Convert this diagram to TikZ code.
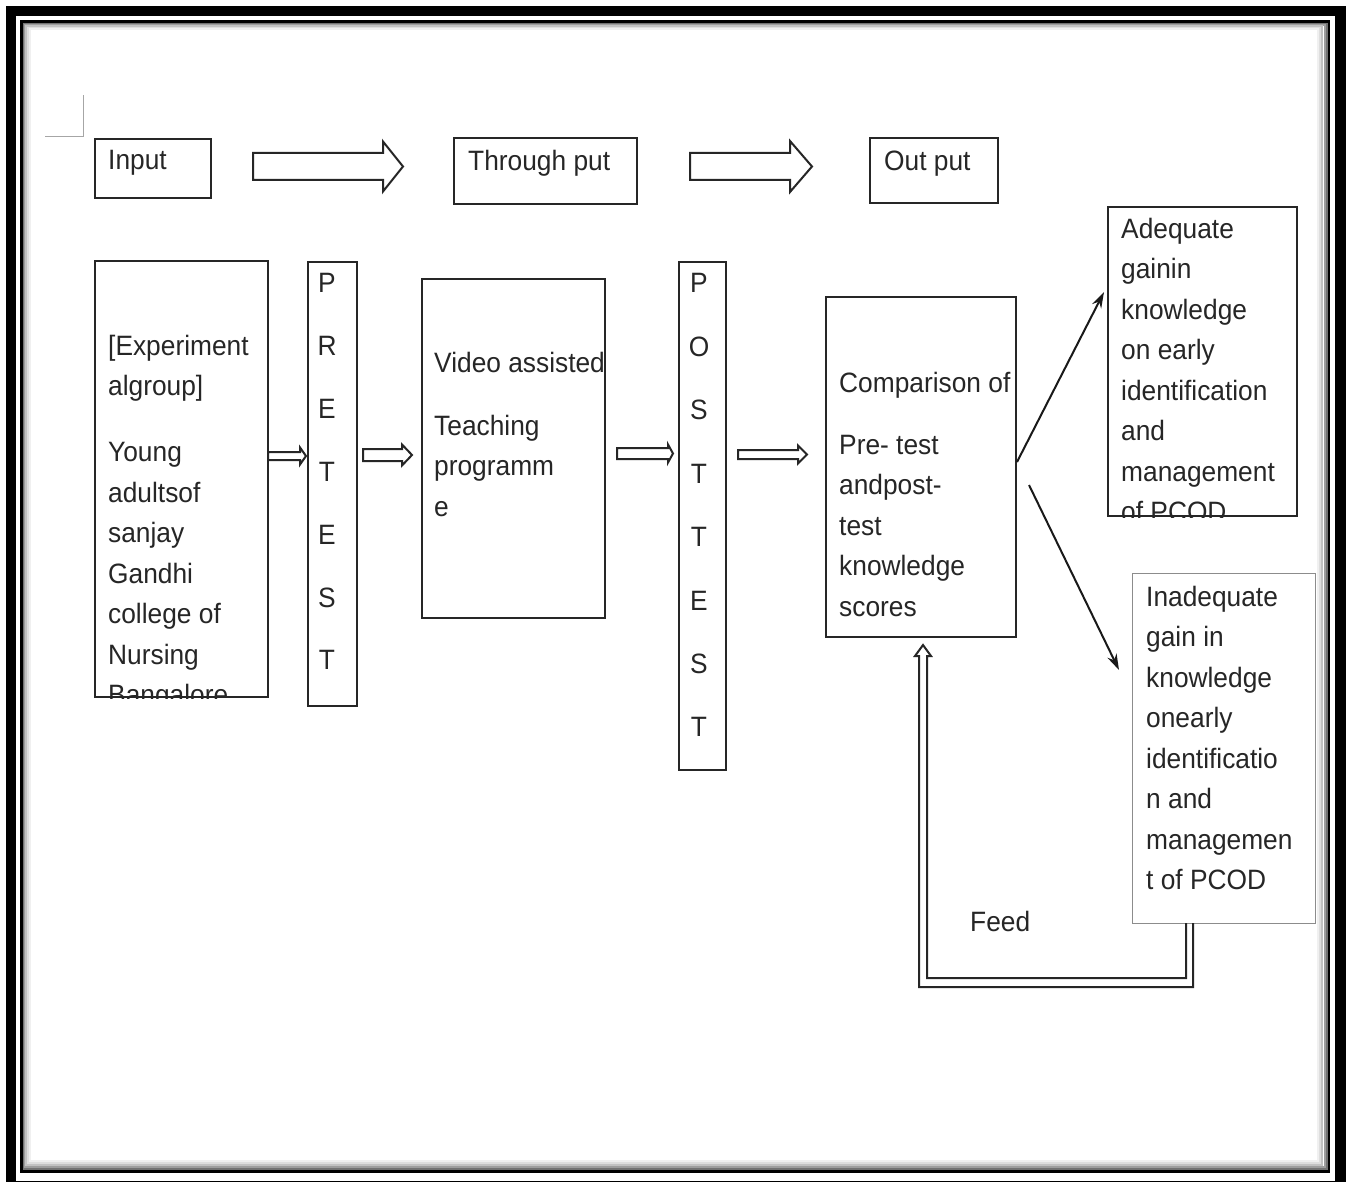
\documentclass[tikz,border=0pt]{standalone}
\usepackage{fontspec}
\setmainfont{Liberation Sans}[FakeStretch=0.94]
\usetikzlibrary{arrows.meta,calc}

\newcommand{\fs}{\fontsize{28}{40.5}\selectfont}
\newcommand{\blockarrow}[6]{%
\draw[arrowline] (#1,{#3-#4}) -- (#6,{#3-#4}) -- (#6,{#3-#5}) -- (#2,#3) -- (#6,{#3+#5}) -- (#6,{#3+#4}) -- (#1,{#3+#4}) -- cycle;}

\tikzset{
  box/.style={draw=black!85, line width=2pt, inner sep=0pt},
  thinbox/.style={draw=black!45, line width=1pt, inner sep=0pt},
  txt/.style={anchor=north west, inner sep=0pt, align=left, text=black!85, font=\fs},
  letter/.style={anchor=base, inner sep=0pt, text=black!85, font=\fs},
  arrowline/.style={draw=black!85, line width=2pt, line join=miter},
  thinarrow/.style={draw=black!90, line width=2pt, -{Stealth[length=16pt,width=10pt]}}
}

\begin{document}
\begin{tikzpicture}[x=1pt,y=-1pt]
\useasboundingbox (0,0) rectangle (1346,1182);
\fill[white] (0,0) rectangle (1346,1182);
% frame
\draw[line width=10.5pt] (11,11) rectangle (1340.5,1186);
\foreach \d/\c in {1/55,2/38,3/24,4/13,5/6}
  \draw[black!\c, line width=2pt] ({21.5+\d*1.6},{21.5+\d*1.6}) rectangle ({1329-\d*2.2},{1171.5-\d*2.2});
\draw[line width=2.5pt] (21.5,21.5) rectangle (1329,1171.5);
\draw[black!35, line width=1pt] (45,137) -- (83,137) -- (83,95);

% top row
\node[box, minimum width=116pt, minimum height=59pt] (input) at (153,168.5) {};
\node[box, minimum width=183pt, minimum height=66pt] (thru) at (545.5,171) {};
\node[box, minimum width=128pt, minimum height=65pt] (outp) at (934,170.5) {};
\node[txt] (inputTxt) at (108,{169-28.35}) {\strut Input};
\node[txt] (thruTxt) at (468,{170-28.35}) {\strut Through put};
\node[txt] (outpTxt) at (884,{170-28.35}) {\strut Out put};
\blockarrow{253}{403}{166.5}{13.5}{25}{383}
\blockarrow{690}{812}{166.5}{13.5}{25.5}{790}

% middle row
\node[box, minimum width=173pt, minimum height=436pt] (group) at (181.5,479) {};
\node[box, minimum width=49pt, minimum height=444pt] (pre) at (332.5,484) {};
\node[box, minimum width=183pt, minimum height=339pt] (video) at (513.5,448.5) {};
\node[box, minimum width=47pt, minimum height=508pt] (post) at (702.5,516) {};
\node[box, minimum width=190pt, minimum height=340pt] (comp) at (921,467) {};
\node[box, minimum width=189pt, minimum height=309pt] (adeq) at (1202.5,361.5) {};
\node[thinbox, minimum width=183pt, minimum height=350pt] (inad) at (1223.5,748) {};

\begin{scope}
\clip (group.south west) rectangle (group.north east);
\node[txt] (groupTxt) at (108,{355-28.35}) {\strut [Experiment\\algroup]\\[25.5pt]Young\\adultsof\\sanjay\\Gandhi\\college of\\Nursing\\Bangalore};
\end{scope}
\foreach \l [count=\i] in {P,R,E,T,E,S,T}
  \node[letter] (pre\i) at (327,{293+62.8*(\i-1)}) {\l};
\node[txt] (videoTxt) at (434,{372-28.35}) {\strut Video assisted\\[22.5pt]Teaching\\programm\\e};
\foreach \l [count=\i] in {P,O,S,T,T,E,S,T}
  \node[letter] (post\i) at (699,{293+63.4*(\i-1)}) {\l};
\node[txt] (compTxt) at (839,{392-28.35}) {\strut Comparison of\\[21.5pt]Pre- test\\andpost-\\test\\knowledge\\scores};
\begin{scope}
\clip (adeq.south west) rectangle (adeq.north east);
\node[txt] (adeqTxt) at (1121,{238-28.35}) {\strut Adequate\\gainin\\knowledge\\on early\\identification\\and\\management\\of PCOD};
\end{scope}
\node[txt] (inadTxt) at (1146,{606-28.35}) {\strut Inadequate\\gain in\\knowledge\\onearly\\identificatio\\n and\\managemen\\t of PCOD};
\node[txt] (feedTxt) at (970,{931-28.35}) {\strut Feed};

\blockarrow{268}{306}{456}{4}{8.5}{300}
\blockarrow{363}{412}{455}{6}{10.5}{402}
\blockarrow{617}{673}{453.5}{5.5}{9}{668}
\blockarrow{738}{807}{454.5}{4.5}{9}{798}

% outcome arrows
\coordinate (upTip) at (1104,292);
\coordinate (dnStart) at (1029,485);
\coordinate (dnTip) at (1119,670);
\draw[thinarrow] ([yshift=5pt]comp.east) -- (upTip);
\draw[thinarrow] (dnStart) -- (dnTip);

% feedback
\draw[arrowline] (1186,923) -- (1186,978) -- (927,978) -- (927,656) -- (931,656) -- (923,645) -- (915,656) -- (919,656) -- (919,987) -- (1193,987) -- (1193,923);
\end{tikzpicture}
\end{document}
